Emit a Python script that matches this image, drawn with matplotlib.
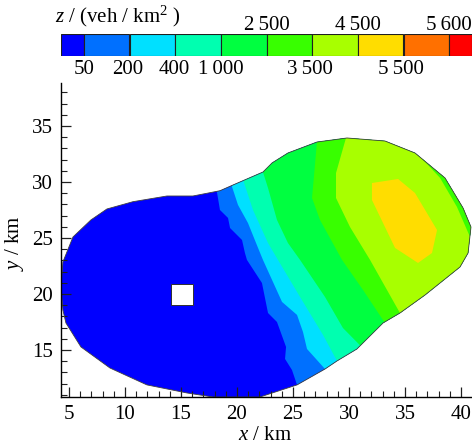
import matplotlib
matplotlib.use("Agg")
import matplotlib.pyplot as plt
from matplotlib.patches import Polygon
from matplotlib.ticker import MultipleLocator

plt.rcParams["font.family"] = ["Liberation Serif", "DejaVu Serif"]
plt.rcParams["mathtext.fontset"] = "custom"
plt.rcParams["mathtext.rm"] = "Liberation Serif"
plt.rcParams["mathtext.it"] = "Liberation Serif:italic"

# colour key
colores = ["#0000ff", "#0070ff", "#00e0ff", "#00ffb0", "#00ff40",
           "#38ff00", "#a8ff00", "#ffdd00", "#ff7000", "#ff0000"]
niveis_baixo = ["50", "200", "400", "1\u2009000", "3\u2009500", "5\u2009500"]
pos_baixo = [1, 1.95, 2.98, 4, 5.95, 7.95]
niveis_cima = ["2\u2009500", "4\u2009500", "5\u2009600"]
pos_cima = [5, 7, 9]
limites = [0.5, 1, 2, 3, 4, 5, 6, 7, 8, 9, 9.5]

# domain outline (km)
contorno_x = [4.29, 4.46, 5.36, 6.96, 8.39, 10.71, 13.75, 16.07, 18.48, 19.64,
              22.32, 23.13, 24.55, 27.14, 29.82, 33.21, 35.89, 38.57, 40.18,
              40.89, 40.63, 39.91, 36.79, 34.55, 33.04, 30.71, 28.93, 27.86,
              25.36, 22.05, 19.82, 17.86, 15.54, 11.96, 8.66, 6.07, 4.73, 4.46]
contorno_y = [20.63, 22.86, 25.09, 26.61, 27.59, 28.24, 28.75, 28.75, 29.22, 29.73,
              30.89, 31.70, 32.59, 33.57, 33.93, 33.66, 32.59, 30.36, 27.68,
              25.98, 23.66, 22.41, 19.91, 18.30, 17.41, 15.09, 14.02, 13.30,
              11.88, 10.80, 10.80, 10.80, 11.16, 11.88, 13.39, 15.27, 17.41, 18.57]

# contour lines, read top to bottom
nivel_200_x = [18.21, 18.48, 19.20, 19.38, 20.45, 20.71, 20.89, 22.23, 22.77, 23.57, 24.38, 24.29, 24.91, 25.36]
nivel_200_y = [29.11, 27.50, 26.79, 25.89, 24.82, 23.66, 23.04, 20.98, 18.30, 17.50, 15.27, 14.20, 13.21, 11.88]
nivel_400_x = [19.55, 20.09, 20.98, 21.88, 22.32, 24.02, 25.36, 25.89, 26.25, 27.86]
nivel_400_y = [29.60, 27.95, 26.34, 24.11, 23.04, 19.29, 18.13, 16.61, 15.09, 13.30]
nivel_1000_x = [20.54, 21.43, 22.77, 23.66, 25.63, 27.68, 28.93]
nivel_1000_y = [30.20, 27.50, 24.55, 23.04, 19.73, 16.34, 14.02]
nivel_2500_x = [22.32, 22.77, 23.57, 24.55, 25.63, 27.86, 29.46, 31.00]
nivel_2500_y = [30.89, 29.46, 26.61, 24.55, 23.04, 19.73, 16.96, 15.40]
nivel_3500_x = [27.14, 26.70, 27.41, 29.38, 31.25, 33.21]
nivel_3500_y = [33.57, 28.57, 26.61, 23.04, 20.36, 17.41]
nivel_4500_x = [29.73, 28.84, 28.84, 30.09, 31.88, 33.39, 34.55]
nivel_4500_y = [33.93, 30.80, 28.57, 25.98, 23.04, 20.36, 18.30]
borda_x = [36.61, 38.13, 39.64, 40.80]
borda_y = [31.99, 30.36, 27.77, 25.10]
nivel_5500_x = [32.05, 34.38, 35.89, 37.86, 37.41, 36.16, 34.11, 32.05]
nivel_5500_y = [29.91, 30.27, 29.02, 25.71, 23.66, 22.77, 24.11, 28.39]

# hole in the domain
furo_x = [14.1, 16.05, 16.05, 14.1]
furo_y = [19.0, 19.0, 20.9, 20.9]

faixas = [
    (nivel_200_x, nivel_200_y, colores[1]),
    (nivel_400_x, nivel_400_y, colores[2]),
    (nivel_1000_x, nivel_1000_y, colores[3]),
    (nivel_2500_x, nivel_2500_y, colores[4]),
    (nivel_3500_x, nivel_3500_y, colores[5]),
    (nivel_4500_x, nivel_4500_y, colores[6]),
    (borda_x, borda_y, colores[5]),
]

fig = plt.figure(figsize=(4.72, 4.46), dpi=100)
W, H = 472, 446

ax = fig.add_axes([61 / W, 1 - 397 / H, 411 / W, 314 / H])
ax.set_xlim(4.29, 40.98)
ax.set_ylim(10.8, 38.84)

regiao = Polygon(list(zip(contorno_x, contorno_y)), closed=True,
                 facecolor=colores[0], edgecolor="none", zorder=1)
ax.add_patch(regiao)

for xs, ys, cor in faixas:
    # everything to the right of the line, cut by the outline
    px = list(xs) + [xs[-1], 60, 60, xs[0]]
    py = list(ys) + [0, 0, 60, 60]
    faixa = Polygon(list(zip(px, py)), closed=True, facecolor=cor,
                    edgecolor="none", zorder=2)
    ax.add_patch(faixa)
    faixa.set_clip_path(regiao)

amarelo = Polygon(list(zip(nivel_5500_x, nivel_5500_y)), closed=True,
                  facecolor=colores[7], edgecolor="none", zorder=3)
ax.add_patch(amarelo)

ax.add_patch(Polygon(list(zip(contorno_x, contorno_y)), closed=True,
                     facecolor="none", edgecolor="#404040", linewidth=0.6, zorder=4))
ax.add_patch(Polygon(list(zip(furo_x, furo_y)), closed=True,
                     facecolor="white", edgecolor="#303030", linewidth=0.7, zorder=4))

ax.spines["top"].set_visible(False)
ax.spines["right"].set_visible(False)
ax.spines["left"].set_linewidth(1.0)
ax.spines["bottom"].set_linewidth(1.0)
ax.spines["left"].set_zorder(5)
ax.spines["bottom"].set_zorder(5)

ax.xaxis.set_major_locator(MultipleLocator(5))
ax.xaxis.set_minor_locator(MultipleLocator(1))
ax.yaxis.set_major_locator(MultipleLocator(5))
ax.yaxis.set_minor_locator(MultipleLocator(1))
ax.tick_params(which="major", direction="in", length=7, width=0.9, labelsize=15, pad=6, color="#202020")
ax.tick_params(which="minor", direction="in", length=4.3, width=0.8, color="#202020")
ax.tick_params(axis="both", which="both", zorder=5)

ax.set_xticks([5, 10, 15, 20, 25, 30, 35, 40])
ax.set_yticks([15, 20, 25, 30, 35])

fig.text(265 / W, 1 - 435 / H, r"$\mathit{x}$ / km", fontsize=15, ha="center", va="center")
fig.text(15 / W, 1 - 243 / H, r"$\mathit{y}$ / km", fontsize=15, ha="center", va="center", rotation=90)

# colour bar
cax = fig.add_axes([61 / W, 1 - 56 / H, 411 / W, 22 / H])
for i in range(len(colores)):
    cax.barh(0, limites[i + 1] - limites[i], left=limites[i], height=1,
             color=colores[i], edgecolor="#202020", linewidth=0.8)
cax.set_xlim(limites[0], limites[-1])
cax.set_ylim(-0.5, 0.5)
cax.axis("off")


def x_barra(v):
    # same scale as the bar, in figure fractions
    return (61 + 411 * (v - limites[0]) / (limites[-1] - limites[0])) / W


for v, txt in zip(pos_baixo, niveis_baixo):
    fig.text(x_barra(v), 1 - 70 / H, txt, fontsize=15, ha="center", va="center")
for v, txt in zip(pos_cima, niveis_cima):
    fig.text(x_barra(v), 1 - 25 / H, txt, fontsize=15, ha="center", va="center")

fig.text(55 / W, 1 - 16 / H, r"$\mathit{z}$ / (veh / km$^{2}$ )", fontsize=15, ha="left", va="center")

fig.savefig("out.png", dpi=100)
plt.close(fig)
